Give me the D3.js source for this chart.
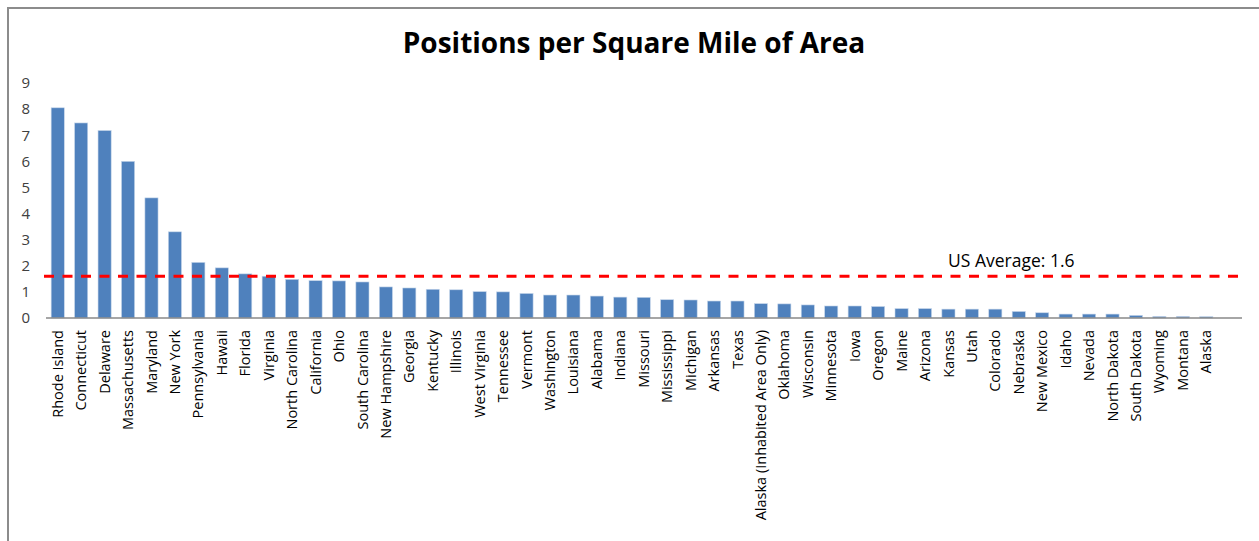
<!DOCTYPE html>
<html lang="en">
  <head>
    <meta charset="UTF-8" />
    <title>Positions per Square Mile of Area</title>
    <script src="https://d3js.org/d3.v7.min.js"></script>
    <style>
      body { margin: 0; background: #fff; }
      text { font-family: "Open Sans", sans-serif; }
    </style>
  </head>
  <body>
    <svg id="chart" width="1259" height="541"></svg>
    <script>
      // data
      const states = ["Rhode Island", "Connecticut", "Delaware", "Massachusetts", "Maryland", "New York",
        "Pennsylvania", "Hawaii", "Florida", "Virginia", "North Carolina", "California", "Ohio",
        "South Carolina", "New Hampshire", "Georgia", "Kentucky", "Illinois", "West Virginia",
        "Tennessee", "Vermont", "Washington", "Louisiana", "Alabama", "Indiana", "Missouri",
        "Mississippi", "Michigan", "Arkansas", "Texas", "Alaska (Inhabited Area Only)", "Oklahoma",
        "Wisconsin", "Minnesota", "Iowa", "Oregon", "Maine", "Arizona", "Kansas", "Utah", "Colorado",
        "Nebraska", "New Mexico", "Idaho", "Nevada", "North Dakota", "South Dakota", "Wyoming",
        "Montana", "Alaska"];
      const positions = [8.05, 7.47, 7.18, 6.0, 4.6, 3.3,
        2.13, 1.92, 1.69, 1.6, 1.48, 1.43, 1.42,
        1.38, 1.19, 1.15, 1.1, 1.08, 1.01,
        1.0, 0.94, 0.88, 0.88, 0.84, 0.8, 0.79,
        0.7, 0.69, 0.65, 0.65, 0.55, 0.54,
        0.5, 0.46, 0.46, 0.44, 0.36, 0.36, 0.34, 0.34, 0.34,
        0.25, 0.2, 0.15, 0.15, 0.15, 0.1, 0.06,
        0.06, 0.05];
      const yTicks = [0, 1, 2, 3, 4, 5, 6, 7, 8, 9];
      const usAverage = 1.6;
      const title = "Positions per Square Mile of Area";

      const svg = d3.select("#chart");

      // outer frame (only top and left edge show in the picture)
      svg.append("rect")
        .attr("x", 8).attr("y", 8)
        .attr("width", 1270).attr("height", 560)
        .attr("fill", "none")
        .attr("stroke", "#8c8c8c")
        .attr("stroke-width", 2);

      const x = d3.scaleBand()
        .domain(states)
        .range([46, 1218])
        .paddingInner(0.44)
        .paddingOuter(0.22);

      const y = d3.scaleLinear()
        .domain([0, 9])
        .range([318, 83]);

      svg.append("text")
        .attr("x", 634).attr("y", 53)
        .attr("text-anchor", "middle")
        .style("font-size", "28px")
        .style("font-weight", "bold")
        .attr("fill", "#000")
        .text(title);

      // y axis: labels only
      const yAxis = svg.append("g")
        .attr("transform", "translate(30,0)")
        .call(d3.axisLeft(y).tickValues(yTicks).tickSize(0).tickPadding(0).tickFormat(d3.format("d")));
      yAxis.select(".domain").remove();
      yAxis.selectAll("text")
        .style("font-size", "15px")
        .attr("fill", "#404040");

      // bars
      svg.append("g")
        .selectAll("rect")
        .data(states)
        .join("rect")
        .attr("x", d => x(d))
        .attr("y", (d, i) => y(positions[i]))
        .attr("width", x.bandwidth())
        .attr("height", (d, i) => y(0) - y(positions[i]))
        .attr("fill", "#4f81bd")
        .attr("stroke", "#c6d6ea")
        .attr("stroke-width", 0.6);

      // x axis
      const xAxis = svg.append("g")
        .attr("transform", "translate(0," + y(0) + ")")
        .call(d3.axisBottom(x).tickSize(0));
      xAxis.select(".domain").remove();
      xAxis.selectAll("text")
        .attr("transform", "rotate(-90)")
        .attr("text-anchor", "end")
        .attr("x", -12)
        .attr("y", 0)
        .attr("dy", "0.35em")
        .style("font-size", "14.5px")
        .attr("fill", "#000");

      svg.append("line")
        .attr("x1", 46).attr("x2", 1242)
        .attr("y1", y(0)).attr("y2", y(0))
        .attr("stroke", "#888")
        .attr("stroke-width", 1.5);

      // average line
      svg.append("line")
        .attr("x1", 44).attr("x2", 1243)
        .attr("y1", y(usAverage)).attr("y2", y(usAverage))
        .attr("stroke", "#ff0000")
        .attr("stroke-width", 3)
        .attr("stroke-dasharray", "10,8.5");

      svg.append("text")
        .attr("x", 948).attr("y", 267)
        .style("font-size", "17.5px")
        .attr("fill", "#000")
        .text("US Average: " + usAverage);
    </script>
  </body>
</html>
